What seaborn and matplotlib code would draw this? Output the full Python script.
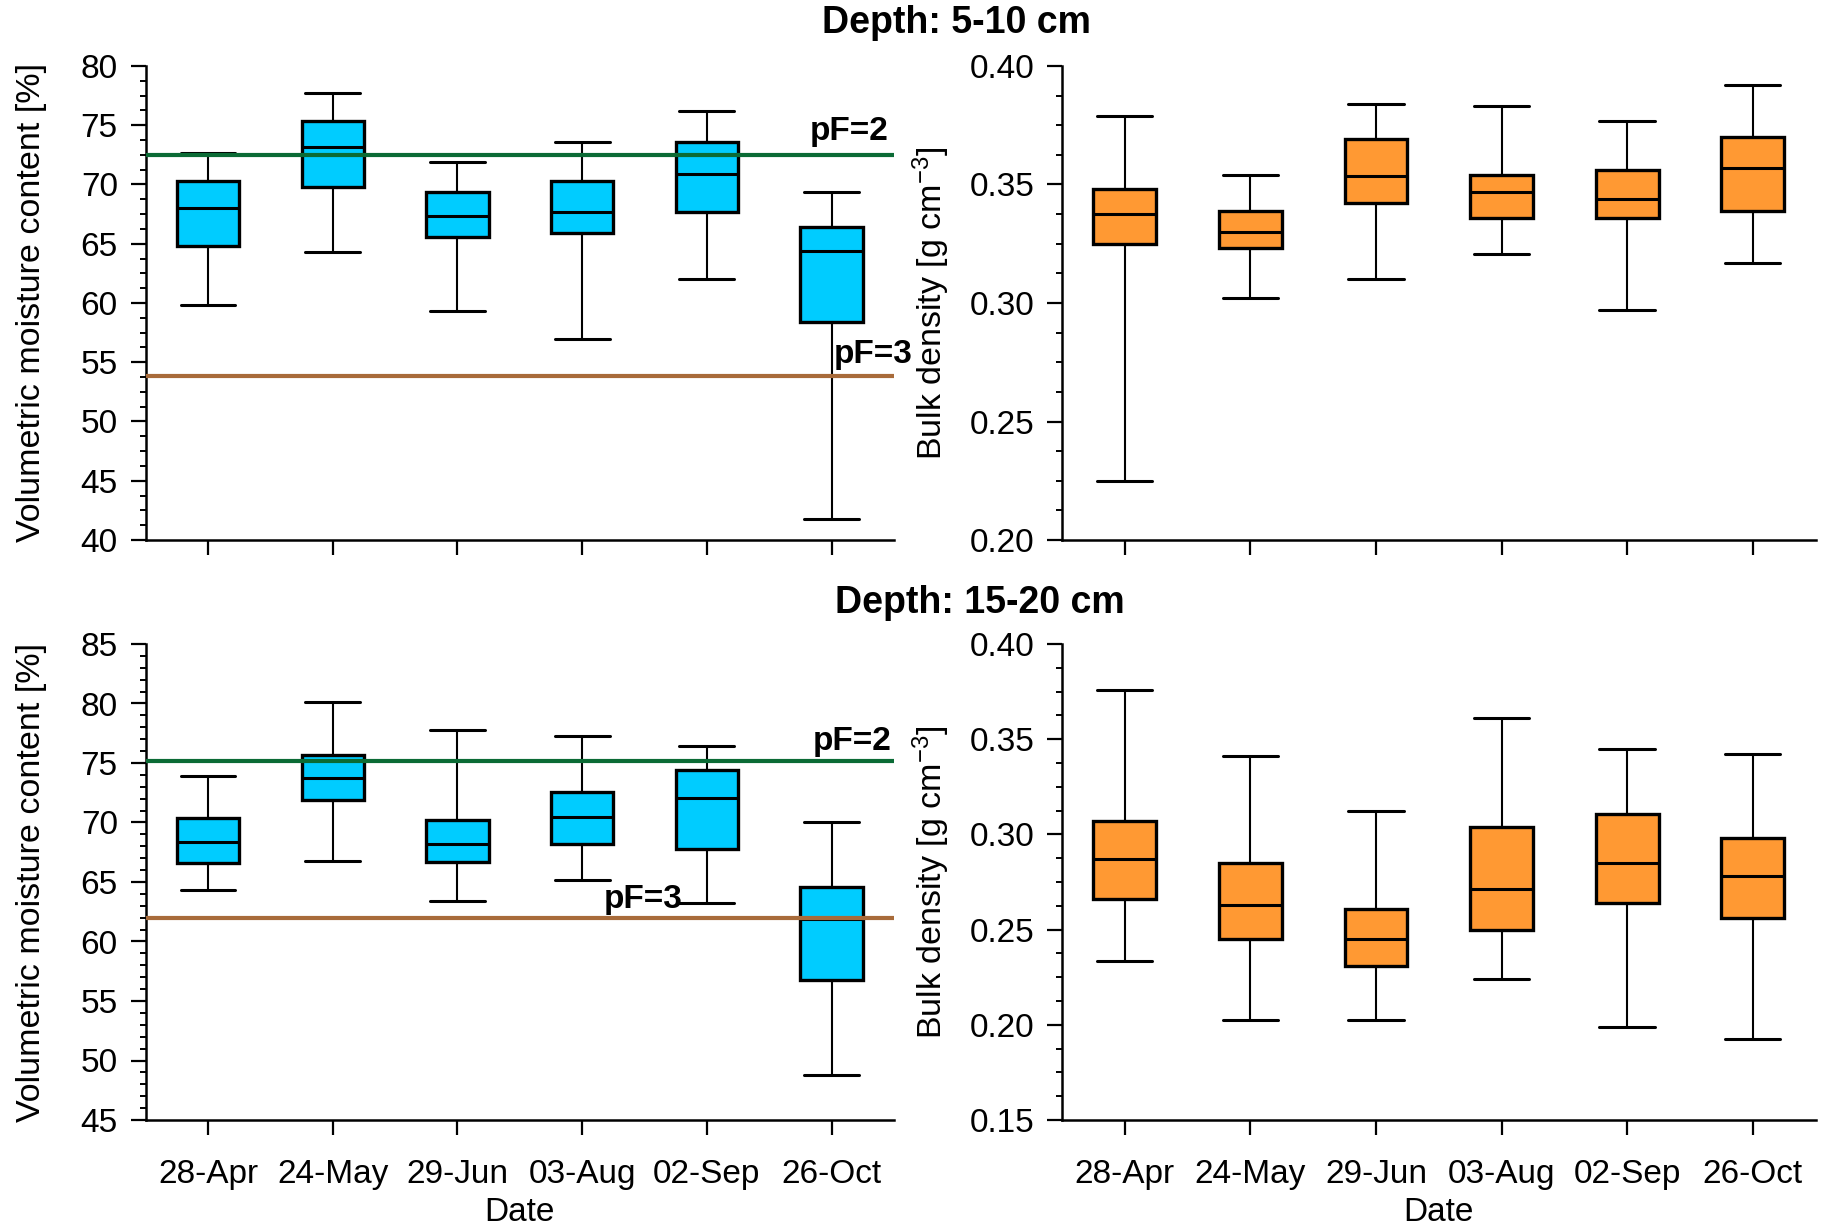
import numpy as np
import pandas as pd
import matplotlib
matplotlib.use("Agg")
import matplotlib.pyplot as plt
from matplotlib.ticker import MultipleLocator, FormatStrFormatter
import seaborn as sns

dates = ["28-Apr", "24-May", "29-Jun", "03-Aug", "02-Sep", "26-Oct"]

# five-number summaries: [min, q1, median, q3, max]
vmc_5_10 = [
    [59.8, 64.8, 68.0, 70.3, 72.7],
    [64.3, 69.8, 73.2, 75.4, 77.7],
    [59.3, 65.6, 67.3, 69.4, 71.9],
    [57.0, 65.9, 67.7, 70.3, 73.6],
    [62.0, 67.7, 70.9, 73.6, 76.2],
    [41.8, 58.4, 64.4, 66.4, 69.4],
]
bd_5_10 = [
    [0.225, 0.325, 0.3375, 0.348, 0.379],
    [0.302, 0.323, 0.330, 0.339, 0.354],
    [0.310, 0.342, 0.3535, 0.369, 0.384],
    [0.3205, 0.336, 0.347, 0.354, 0.383],
    [0.297, 0.336, 0.344, 0.356, 0.377],
    [0.317, 0.339, 0.357, 0.370, 0.392],
]
vmc_15_20 = [
    [64.3, 66.6, 68.4, 70.4, 73.9],
    [66.8, 71.9, 73.7, 75.7, 80.1],
    [63.4, 66.7, 68.2, 70.2, 77.8],
    [65.2, 68.2, 70.5, 72.6, 77.3],
    [63.2, 67.8, 72.1, 74.4, 76.4],
    [48.8, 56.8, 61.9, 64.6, 70.0],
]
bd_15_20 = [
    [0.2335, 0.266, 0.287, 0.307, 0.376],
    [0.2025, 0.245, 0.263, 0.285, 0.341],
    [0.2025, 0.231, 0.245, 0.261, 0.3125],
    [0.224, 0.250, 0.2715, 0.304, 0.361],
    [0.199, 0.264, 0.285, 0.3105, 0.345],
    [0.1925, 0.256, 0.278, 0.298, 0.342],
]

pf2 = [72.5, 75.2]
pf3 = [53.8, 61.95]

CYAN = "#00CCFF"
ORANGE = "#FF9933"
GREEN = "#0B6B35"
BROWN = "#A86B3A"

sns.set_theme(style="ticks")
plt.rcParams["font.family"] = ["Liberation Sans", "DejaVu Sans"]
plt.rcParams["mathtext.fontset"] = "custom"
plt.rcParams["mathtext.rm"] = "Liberation Sans"
plt.rcParams["mathtext.it"] = "Liberation Sans:italic"
plt.rcParams["mathtext.bf"] = "Liberation Sans:bold"
plt.rcParams["text.color"] = "black"

fig = plt.figure(figsize=(18.26, 12.28), dpi=100)
W, H = 1826, 1228


def axes_px(l, r, t, b):
    return fig.add_axes([l / W, 1 - b / H, (r - l) / W, (b - t) / H])


ax_tl = axes_px(145.6, 894, 66, 540)
ax_tr = axes_px(1062, 1815.5, 66, 540)
ax_bl = axes_px(145.6, 894, 644, 1120)
ax_br = axes_px(1062, 1815.5, 644, 1120)


def to_long(stats):
    rows = []
    for d, s in zip(dates, stats):
        for v in s:
            rows.append((d, v))
    return pd.DataFrame(rows, columns=["Date", "value"])


def draw(ax, stats, color):
    df = to_long(stats)
    sns.boxplot(data=df, x="Date", y="value", order=dates, ax=ax,
                color=color, saturation=1, width=0.5, whis=(0, 100),
                linecolor="black", linewidth=2.4, showfliers=False,
                capwidths=0.44,
                whiskerprops=dict(linewidth=1.5),
                capprops=dict(linewidth=2.2),
                medianprops=dict(linewidth=2.2))
    ax.set_xlim(-0.5, 5.5)
    for side in ["top", "right"]:
        ax.spines[side].set_visible(False)
    for side in ["left", "bottom"]:
        ax.spines[side].set_linewidth(1.8)
        ax.spines[side].set_color("black")
    ax.tick_params(axis="both", which="major", direction="out", length=11,
                   width=1.6, color="black", labelsize=24, labelcolor="black")
    ax.tick_params(axis="y", which="major", pad=9)
    ax.tick_params(axis="x", which="major", pad=17)
    ax.tick_params(axis="y", which="minor", direction="out", length=4,
                   width=1.4, color="black")
    ax.tick_params(axis="x", which="minor", length=0)
    ax.grid(False)


draw(ax_tl, vmc_5_10, CYAN)
draw(ax_tr, bd_5_10, ORANGE)
draw(ax_bl, vmc_15_20, CYAN)
draw(ax_br, bd_15_20, ORANGE)

ax_tl.set_ylim(40, 80)
ax_tl.yaxis.set_major_locator(MultipleLocator(5))
ax_tl.yaxis.set_minor_locator(MultipleLocator(1.25))
ax_bl.set_ylim(45, 85)
ax_bl.yaxis.set_major_locator(MultipleLocator(5))
ax_bl.yaxis.set_minor_locator(MultipleLocator(1))
ax_tr.set_ylim(0.20, 0.40)
ax_br.set_ylim(0.15, 0.40)
for ax in (ax_tr, ax_br):
    ax.yaxis.set_major_locator(MultipleLocator(0.05))
    ax.yaxis.set_minor_locator(MultipleLocator(0.0125))
    ax.yaxis.set_major_formatter(FormatStrFormatter("%.2f"))

for ax in (ax_tl, ax_tr):
    ax.set_xticklabels([])
    ax.set_xlabel("")
for ax in (ax_bl, ax_br):
    ax.set_xlabel("Date", fontsize=24, labelpad=5, color="black")

for ax in (ax_tl, ax_bl):
    ax.set_ylabel("Volumetric moisture content [%]", fontsize=24.5, color="black")
    ax.yaxis.set_label_coords(-0.132, 0.5)
for ax in (ax_tr, ax_br):
    ax.set_ylabel(r"Bulk density [g cm$^{\mathrm{-3}}$]", fontsize=24.5, color="black")
    ax.yaxis.set_label_coords(-0.146, 0.5)

# pF reference lines
for ax, y2, y3 in ((ax_tl, pf2[0], pf3[0]), (ax_bl, pf2[1], pf3[1])):
    ax.axhline(y2, color=GREEN, linewidth=3, zorder=5)
    ax.axhline(y3, color=BROWN, linewidth=3, zorder=5)

tk = dict(fontsize=24, fontweight="bold", ha="center", va="center",
          color="black", zorder=6)
ax_tl.text(5.14, 74.5, "pF=2", **tk)
ax_tl.text(5.33, 55.63, "pF=3", clip_on=False, **tk)
ax_bl.text(5.167, 76.8, "pF=2", **tk)
ax_bl.text(3.49, 63.5, "pF=3", **tk)

fig.text(956 / W, 1 - 23 / H, "Depth: 5-10 cm", fontsize=27,
         fontweight="bold", ha="center", va="center", color="black")
fig.text(980 / W, 1 - 603 / H, "Depth: 15-20 cm", fontsize=27,
         fontweight="bold", ha="center", va="center", color="black")

fig.savefig("out.png", dpi=100)
